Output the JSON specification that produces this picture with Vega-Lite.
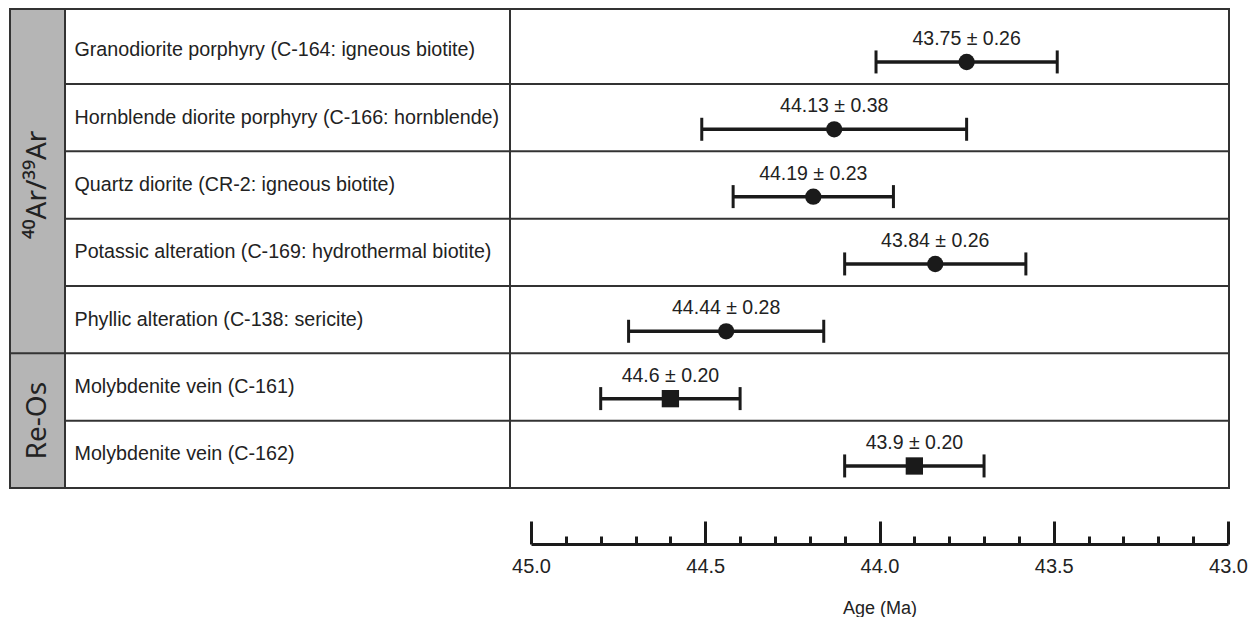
{
  "$schema": "https://vega.github.io/schema/vega-lite/v6.json",
  "background": "white",
  "padding": {"left": 8, "top": 8, "right": 5, "bottom": 5},
  "spacing": 0,
  "bounds": "flush",
  "config": {
    "view": {"stroke": "#333333", "strokeWidth": 2},
    "font": "Liberation Sans",
    "axis": {"labelFont": "Liberation Sans", "titleFont": "Liberation Sans"}
  },
  "datasets": {
    "rows": [
      {"order": 1, "method": "⁴⁰Ar/³⁹Ar", "sample": "Granodiorite porphyry (C-164: igneous biotite)", "age": 43.75, "err": 0.26, "ageLabel": "43.75 ± 0.26"},
      {"order": 2, "method": "⁴⁰Ar/³⁹Ar", "sample": "Hornblende diorite porphyry (C-166: hornblende)", "age": 44.13, "err": 0.38, "ageLabel": "44.13 ± 0.38"},
      {"order": 3, "method": "⁴⁰Ar/³⁹Ar", "sample": "Quartz diorite (CR-2: igneous biotite)", "age": 44.19, "err": 0.23, "ageLabel": "44.19 ± 0.23"},
      {"order": 4, "method": "⁴⁰Ar/³⁹Ar", "sample": "Potassic alteration (C-169: hydrothermal biotite)", "age": 43.84, "err": 0.26, "ageLabel": "43.84 ± 0.26"},
      {"order": 5, "method": "⁴⁰Ar/³⁹Ar", "sample": "Phyllic alteration (C-138: sericite)", "age": 44.44, "err": 0.28, "ageLabel": "44.44 ± 0.28"},
      {"order": 6, "method": "Re-Os", "sample": "Molybdenite vein (C-161)", "age": 44.6, "err": 0.20, "ageLabel": "44.6 ± 0.20"},
      {"order": 7, "method": "Re-Os", "sample": "Molybdenite vein (C-162)", "age": 43.9, "err": 0.20, "ageLabel": "43.9 ± 0.20"}
    ]
  },
  "hconcat": [
    {
      "width": 55,
      "height": 479,
      "data": {"name": "rows"},
      "view": {"fill": "#b5b5b5", "stroke": "#333333", "strokeWidth": 2},
      "layer": [
        {
          "transform": [
            {"window": [{"op": "rank", "as": "r"}], "groupby": ["method"], "sort": [{"field": "order"}]}
          ],
          "mark": {"type": "rule", "color": "#333333", "strokeWidth": 2},
          "encoding": {
            "y": {"field": "sample", "type": "nominal", "sort": {"field": "order", "op": "min"}, "bandPosition": 0,
                  "scale": {"type": "band", "paddingInner": 0, "paddingOuter": 0.057, "align": 1}, "axis": null},
            "strokeOpacity": {"condition": {"test": "datum.r == 1 && datum.order > 1", "value": 1}, "value": 0}
          }
        },
        {
          "transform": [
            {"aggregate": [{"op": "mean", "field": "order", "as": "mid"}], "groupby": ["method"]}
          ],
          "mark": {"type": "text", "angle": 270, "fontSize": 28, "font": "Noto Sans", "color": "#222222", "align": "center", "baseline": "middle"},
          "encoding": {
            "y": {"field": "mid", "type": "quantitative", "scale": {"domain": [0.39, 7.5], "reverse": true, "nice": false, "zero": false}, "axis": null},
            "text": {"field": "method"}
          }
        }
      ],
      "resolve": {"scale": {"y": "independent"}}
    },
    {
      "width": 445,
      "height": 479,
      "data": {"name": "rows"},
      "mark": {"type": "rule", "color": "#333333", "strokeWidth": 2},
      "encoding": {
        "y": {"field": "sample", "type": "nominal", "sort": {"field": "order", "op": "min"}, "bandPosition": 0,
              "scale": {"type": "band", "paddingInner": 0, "paddingOuter": 0.057, "align": 1},
              "axis": {"orient": "left", "title": null, "domain": false, "ticks": false, "tickSize": 0, "grid": false,
                       "labelAlign": "left", "labelBaseline": "middle", "labelPadding": -9, "labelFontSize": 19.7,
                       "labelColor": "#222222", "labelLimit": 700, "bandPosition": 0.7}},
        "strokeOpacity": {"condition": {"test": "datum.order > 1", "value": 1}, "value": 0}
      }
    },
    {
      "width": 719,
      "height": 479,
      "data": {"name": "rows"},
      "layer": [
        {
          "mark": {"type": "rule", "color": "#333333", "strokeWidth": 2},
          "encoding": {
            "y": {"field": "sample", "type": "nominal", "sort": {"field": "order", "op": "min"}, "bandPosition": 0,
                  "scale": {"type": "band", "paddingInner": 0, "paddingOuter": 0.057, "align": 1}, "axis": null},
            "strokeOpacity": {"condition": {"test": "datum.order > 1", "value": 1}, "value": 0}
          }
        },
        {
          "mark": {"type": "errorbar", "color": "#1a1a1a", "thickness": 3.5, "rule": {"strokeWidth": 3.5, "opacity": 1}, "ticks": {"size": 23, "thickness": 3, "yOffset": 11.6, "opacity": 1, "color": "#1a1a1a"}},
          "encoding": {
            "x": {"field": "age", "type": "quantitative", "scale": {"domain": [45, 43], "range": [21, 718], "nice": false, "zero": false}, "axis": null},
            "xError": {"field": "err"},
            "y": {"field": "sample", "type": "nominal", "sort": {"field": "order", "op": "min"}, "bandPosition": 0.673}
          }
        },
        {
          "mark": {"type": "point", "filled": true, "opacity": 1, "color": "#1a1a1a"},
          "encoding": {
            "x": {"field": "age", "type": "quantitative",
                  "axis": {"orient": "bottom", "offset": 56, "values": [45, 44.5, 44, 43.5, 43], "format": ".1f",
                           "tickSize": -23, "tickWidth": 3, "tickColor": "#1a1a1a", "domainWidth": 3, "domainColor": "#1a1a1a",
                           "labelFontSize": 20, "labelColor": "#222222", "labelPadding": 35, "labelFlush": false, "labelOverlap": false,
                           "title": "Age (Ma)", "titleFontSize": 18, "titleFontWeight": "normal", "titleColor": "#222222", "titlePadding": 23, "grid": false}},
            "y": {"field": "sample", "type": "nominal", "sort": {"field": "order", "op": "min"}, "bandPosition": 0.673},
            "shape": {"field": "method", "type": "nominal", "scale": {"domain": ["⁴⁰Ar/³⁹Ar", "Re-Os"], "range": ["circle", "square"]}, "legend": null},
            "size": {"field": "method", "type": "nominal", "scale": {"domain": ["⁴⁰Ar/³⁹Ar", "Re-Os"], "range": [265, 300]}, "legend": null}
          }
        },
        {
          "mark": {"type": "text", "fontSize": 19.5, "color": "#222222", "baseline": "middle", "align": "center"},
          "encoding": {
            "x": {"field": "age", "type": "quantitative",
                  "axis": {"orient": "bottom", "offset": 56, "values": [44.9, 44.8, 44.7, 44.6, 44.4, 44.3, 44.2, 44.1, 43.9, 43.8, 43.7, 43.6, 43.4, 43.3, 43.2, 43.1],
                           "tickSize": -8, "tickWidth": 3, "tickColor": "#1a1a1a", "labels": false, "domain": false, "title": null, "grid": false}},
            "y": {"field": "sample", "type": "nominal", "sort": {"field": "order", "op": "min"}, "bandPosition": 0.33},
            "text": {"field": "ageLabel"}
          }
        }
      ],
      "resolve": {"axis": {"x": "independent"}}
    }
  ]
}
